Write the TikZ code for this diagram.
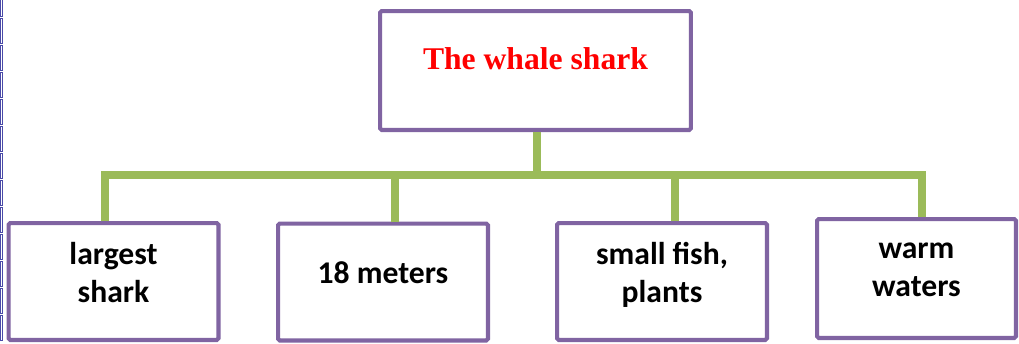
\documentclass[tikz,border=0pt]{standalone}
\usepackage{fontspec}
\setmainfont{Carlito}
\newfontfamily\titlefont{Liberation Serif}
\definecolor{boxpurple}{HTML}{8064A2}
\definecolor{linkgreen}{HTML}{9BBB59}
\definecolor{marginblue}{HTML}{4A4AA8}
\tikzset{
	box/.style={draw=boxpurple,line width=2.3pt,rounded corners=1pt,fill=white,align=center},
	leaf/.style={box,minimum width=4.2cm,minimum height=2.34cm,text depth=0.36cm,
		font=\fontsize{18}{21.5}\selectfont\bfseries},
	link/.style={draw=linkgreen,line width=4pt,line join=miter},
	linkshade/.style={draw=black!12,line width=4pt,line join=miter}
}
\begin{document}
\begin{tikzpicture}[x=0.02cm,y=-0.02cm]
	\useasboundingbox (0,0) rectangle (1019,343);
	\foreach \k in {0,...,12}
		\draw[marginblue,line width=0.5pt] (0.3,\k*27-9) rectangle (2.3,\k*27+16);
	\coordinate (jL) at (105,175);
	\coordinate (j2) at (395,175);
	\coordinate (j3) at (675,175);
	\coordinate (jR) at (922,175);
	\coordinate (jT) at (537,175);
	\node[box,minimum width=6.22cm,minimum height=2.38cm,text depth=0.48cm,
		text=red,font=\titlefont\fontsize{18}{21.5}\selectfont\bfseries] (top) at (535.5,70.5) {The whale shark};
	\node[leaf] (b1) at (113.5,281.5) {largest\\shark};
	\node[leaf] (b2) at (383,282) {18 meters};
	\node[leaf] (b3) at (662,281.5) {small fish,\\plants};
	\node[leaf,minimum width=3.98cm,minimum height=2.38cm] (b4) at (916.5,278.5) {warm\\waters};
	\begin{scope}[xshift=0.05cm,yshift=-0.05cm]
		\draw[linkshade] (jL |- b1.north) -- (jL) -- (jR) -- (jR |- b4.north);
		\draw[linkshade] (jT |- top.south) -- (jT);
		\draw[linkshade] (j2) -- (j2 |- b2.north);
		\draw[linkshade] (j3) -- (j3 |- b3.north);
	\end{scope}
	\draw[link] (jL |- b1.north) -- (jL) -- (jR) -- (jR |- b4.north);
	\draw[link] (jT |- top.south) -- (jT);
	\draw[link] (j2) -- (j2 |- b2.north);
	\draw[link] (j3) -- (j3 |- b3.north);
\end{tikzpicture}
\end{document}
